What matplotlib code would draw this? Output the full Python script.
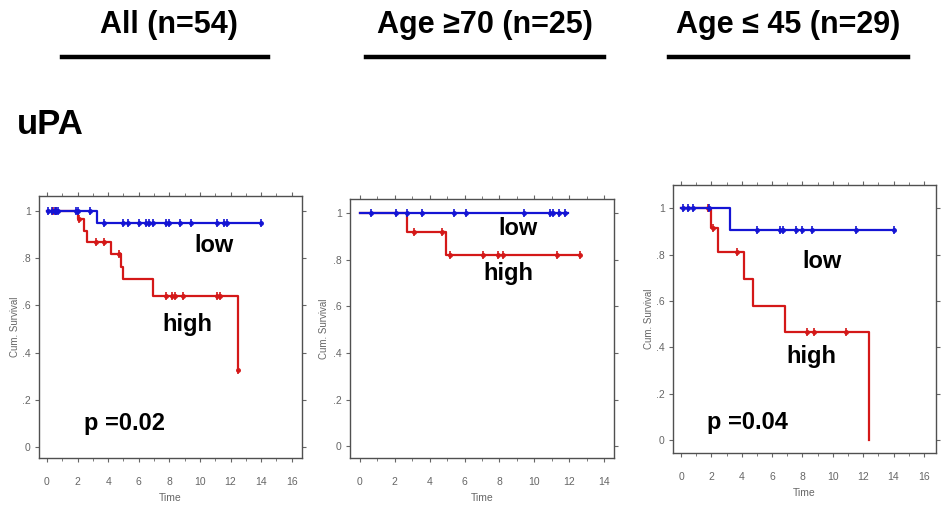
import numpy as np
import matplotlib
matplotlib.use("Agg")
import matplotlib.pyplot as plt
from matplotlib.ticker import MultipleLocator, FixedLocator

plt.rcParams['font.family'] = ['Liberation Sans', 'DejaVu Sans']

# ---------------- data ----------------
headers = ["All (n=54)", "Age \u226570 (n=25)", "Age \u2264 45 (n=29)"]
row_label = "uPA"
p_values = ["p =0.02", None, "p =0.04"]

# Panel 1: All
p1_low_events = [3.3]
p1_low_surv = [0.95]
p1_low_end = 14.0
p1_low_cens = [0.1, 0.3, 0.5, 0.6, 0.7, 1.9, 2.0, 2.8, 3.7, 5.0, 5.3, 6.0, 6.5,
               6.7, 6.9, 7.8, 8.0, 8.7, 9.4, 11.1, 11.6, 11.8, 14.0]
p1_high_events = [2.05, 2.4, 2.65, 4.2, 4.85, 5.0, 6.9, 12.5]
p1_high_surv = [0.965, 0.915, 0.87, 0.82, 0.765, 0.71, 0.64, 0.325]
p1_high_end = 12.5
p1_high_cens = [0.4, 0.6, 2.1, 3.2, 3.7, 4.7, 7.8, 8.2, 8.4, 8.9, 11.1, 11.3, 12.5]

# Panel 2: Age >= 70
p2_low_events = []
p2_low_surv = []
p2_low_end = 11.95
p2_low_cens = [0.63, 2.07, 2.68, 3.58, 5.4, 6.06, 9.43, 10.9, 11.05, 11.4, 11.76]
p2_high_events = [2.68, 4.93]
p2_high_surv = [0.92, 0.82]
p2_high_end = 12.6
p2_high_cens = [3.1, 4.7, 5.16, 7.07, 7.9, 8.2, 11.28, 12.6]

# Panel 3: Age <= 45
p3_low_events = [3.22]
p3_low_surv = [0.905]
p3_low_end = 14.0
p3_low_cens = [0.15, 0.48, 0.81, 1.86, 4.98, 6.5, 6.73, 7.6, 7.94, 8.64, 11.5, 14.0]
p3_high_events = [2.0, 2.45, 4.17, 4.76, 6.84, 12.4]
p3_high_surv = [0.915, 0.81, 0.695, 0.58, 0.465, 0.0]
p3_high_end = 12.4
p3_high_cens = [1.8, 2.1, 3.66, 8.33, 8.77, 10.86]

panels = [
    dict(low=(p1_low_events, p1_low_surv, p1_low_end, p1_low_cens),
         high=(p1_high_events, p1_high_surv, p1_high_end, p1_high_cens),
         xmax_tick=16),
    dict(low=(p2_low_events, p2_low_surv, p2_low_end, p2_low_cens),
         high=(p2_high_events, p2_high_surv, p2_high_end, p2_high_cens),
         xmax_tick=14),
    dict(low=(p3_low_events, p3_low_surv, p3_low_end, p3_low_cens),
         high=(p3_high_events, p3_high_surv, p3_high_end, p3_high_cens),
         xmax_tick=16),
]

# ---------------- layout ----------------
W, H = 941, 507
fig = plt.figure(figsize=(W / 100, H / 100), dpi=100)

def px_rect(l, t, r, b):
    return [l / W, (H - b) / H, (r - l) / W, (b - t) / H]

axes_rects = [px_rect(39, 196, 302, 458), px_rect(350, 199, 614, 458), px_rect(673, 185, 936, 453)]
xlims = [(-0.52, 16.67), (-0.57, 14.57), (-0.53, 16.8)]
ylims = [(-0.047, 1.064), (-0.05, 1.06), (-0.056, 1.1)]
ylabel_x = [-0.073, -0.078, -0.074]
low_pos = [(10.9, 0.855), (9.07, 0.935), (9.3, 0.77)]
high_pos = [(9.2, 0.52), (8.5, 0.742), (8.6, 0.36)]
p_pos = [(5.1, 0.10), None, (4.4, 0.077)]
header_x = [169, 485, 788]
line_spans = [(62, 268), (366, 604), (669, 908)]

BLUE = '#1414d4'
RED = '#d41818'
GRAY = '#666666'


def km_curve(events, surv, end):
    t = [0.0] + list(events) + [end]
    s = [1.0] + list(surv) + [surv[-1] if len(surv) else 1.0]
    return np.array(t), np.array(s)


def step_value(t, s, x):
    idx = np.searchsorted(t[:-1], x, side='right') - 1
    return s[np.clip(idx, 0, len(s) - 1)]


for i, (pan, rect) in enumerate(zip(panels, axes_rects)):
    ax = fig.add_axes(rect)
    for key, col in (("high", RED), ("low", BLUE)):
        ev, sv, end, cens = pan[key]
        t, s = km_curve(ev, sv, end)
        z = 3 if key == 'low' else 2
        ax.step(t, s, where='post', color=col, lw=1.6, zorder=z)
        cx = np.array(cens)
        cy = step_value(t, s, cx)
        ax.plot(cx, cy, ls='none', marker='|', ms=6, mew=1.2, color=col, zorder=z + 1)
        ax.plot(cx, cy, ls='none', marker='o', ms=2.5, color=col, zorder=z + 1)
    ax.set_xlim(*xlims[i])
    ax.set_ylim(*ylims[i])
    xt = list(range(0, pan['xmax_tick'] + 1, 2))
    ax.xaxis.set_major_locator(FixedLocator(xt))
    ax.set_xticklabels([str(v) for v in xt])
    ax.xaxis.set_minor_locator(MultipleLocator(1))
    ax.set_yticks([0, 0.2, 0.4, 0.6, 0.8, 1.0])
    ax.set_yticklabels(['0', '.2', '.4', '.6', '.8', '1'])
    ax.tick_params(axis='both', which='both', direction='out', colors=GRAY,
                   labelsize=7.5, top=True, right=True, labelcolor=GRAY)
    ax.tick_params(axis='x', which='major', length=3, pad=11)
    ax.tick_params(axis='x', which='minor', length=2)
    ax.tick_params(axis='y', which='major', length=3, pad=3)
    for sp in ax.spines.values():
        sp.set_color('#505050')
        sp.set_linewidth(1.0)
    ax.set_xlabel('Time', fontsize=7.5, color=GRAY, labelpad=4)
    ax.set_ylabel('Cum. Survival', fontsize=7, color=GRAY)
    ax.yaxis.set_label_coords(ylabel_x[i], 0.5)

    kw = dict(fontsize=17, fontweight='bold', ha='center', va='center', color='black', zorder=6)
    ax.text(*low_pos[i], 'low', **kw)
    ax.text(*high_pos[i], 'high', **kw)
    if p_values[i] is not None:
        ax.text(*p_pos[i], p_values[i], **kw)

# headers and rules
for i, h in enumerate(headers):
    fig.text(header_x[i] / W, 1 - 25 / H, h, fontsize=22, fontweight='bold',
             ha='center', va='center')
    x0, x1 = line_spans[i]
    fig.add_artist(plt.Line2D([x0 / W, x1 / W], [1 - 57 / H, 1 - 57 / H],
                              color='black', lw=3.2, transform=fig.transFigure))

fig.text(17 / W, 1 - 125 / H, row_label, fontsize=25, fontweight='bold',
         ha='left', va='center')

fig.savefig('out.png', dpi=100)
